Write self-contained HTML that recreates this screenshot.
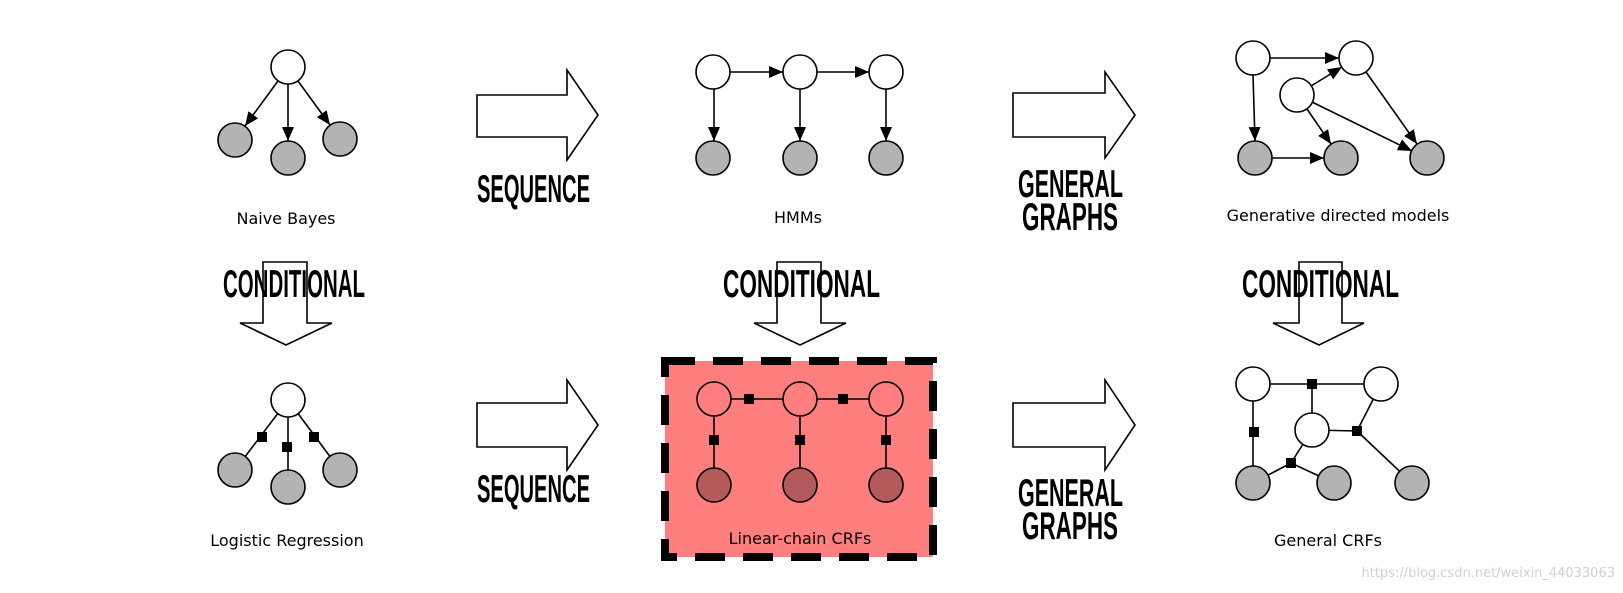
<!DOCTYPE html>
<html><head><meta charset="utf-8"><style>
html,body{margin:0;padding:0;background:#fff;}
svg{display:block;}
.lbl{font-family:"DejaVu Sans","Liberation Sans",sans-serif;font-size:16px;fill:#000;text-anchor:middle;}
.big{font-family:"Liberation Sans Narrow","Liberation Sans",sans-serif;font-weight:bold;font-size:39px;fill:#000;}
</style></head><body>
<svg width="1623" height="593" viewBox="0 0 1623 593" xmlns="http://www.w3.org/2000/svg">
<defs>
<marker id="ah" markerWidth="14" markerHeight="12" refX="14" refY="6" orient="auto" markerUnits="userSpaceOnUse">
<path d="M0,0 L14,6 L0,12 z" fill="#000"/>
</marker>
</defs>
<g stroke="#000" stroke-width="1.6" fill="none">
<!-- Naive Bayes arrows -->
<line x1="278" y1="81" x2="245" y2="126" marker-end="url(#ah)"/>
<line x1="288" y1="84" x2="288" y2="141" marker-end="url(#ah)"/>
<line x1="298" y1="81" x2="330" y2="125" marker-end="url(#ah)"/>
<!-- HMM arrows -->
<line x1="730" y1="72" x2="783" y2="72" marker-end="url(#ah)"/>
<line x1="817" y1="72" x2="869" y2="72" marker-end="url(#ah)"/>
<line x1="714" y1="89" x2="714" y2="141" marker-end="url(#ah)"/>
<line x1="800" y1="89" x2="800" y2="141" marker-end="url(#ah)"/>
<line x1="886" y1="89" x2="886" y2="141" marker-end="url(#ah)"/>
<!-- Generative -->
<line x1="1270" y1="58" x2="1339" y2="58" marker-end="url(#ah)"/>
<line x1="1253" y1="75" x2="1255" y2="141" marker-end="url(#ah)"/>
<line x1="1311" y1="86" x2="1342" y2="67" marker-end="url(#ah)"/>
<line x1="1307" y1="109" x2="1331" y2="144" marker-end="url(#ah)"/>
<line x1="1312" y1="102" x2="1412" y2="151" marker-end="url(#ah)"/>
<line x1="1366" y1="72" x2="1417" y2="144" marker-end="url(#ah)"/>
<line x1="1272" y1="158" x2="1324" y2="158" marker-end="url(#ah)"/>
<!-- LR lines -->
<line x1="288" y1="400" x2="235" y2="470"/>
<line x1="288" y1="400" x2="288" y2="487"/>
<line x1="288" y1="400" x2="340" y2="470"/>
</g>
<!-- Big arrows -->
<g stroke="#000" stroke-width="1.6" fill="#fff">
<polygon points="477,95 567,95 567,70 598,115 567,160 567,137 477,137"/>
<polygon points="477,403 567,403 567,380 598,425 567,470 567,447 477,447"/>
<polygon points="1013,93 1105,93 1105,72 1135,115 1105,158 1105,137 1013,137"/>
<polygon points="1013,403 1105,403 1105,380 1135,425 1105,470 1105,447 1013,447"/>
<polygon points="263,262 307,262 307,323 332,323 286,345 240,323 263,323"/>
<polygon points="777,262 821,262 821,323 846,323 800,345 754,323 777,323"/>
<polygon points="1299,262 1342,262 1342,323 1364,323 1319,345 1273,323 1299,323"/>
</g>
<!-- Red box -->
<rect x="665" y="361" width="268" height="196" fill="#ff7f7f" stroke="#000" stroke-width="8" stroke-dasharray="30 18"/>
<g stroke="#000" stroke-width="1.6" fill="none">
<line x1="714" y1="399" x2="886" y2="399"/>
<line x1="714" y1="399" x2="714" y2="485"/>
<line x1="800" y1="399" x2="800" y2="485"/>
<line x1="886" y1="399" x2="886" y2="485"/>
<!-- General CRF -->
<line x1="1253" y1="384" x2="1381" y2="384"/>
<line x1="1312" y1="384" x2="1312" y2="430"/>
<line x1="1253" y1="384" x2="1253" y2="483"/>
<line x1="1312" y1="430" x2="1357" y2="431"/>
<line x1="1381" y1="384" x2="1357" y2="431"/>
<line x1="1357" y1="431" x2="1412" y2="483"/>
<line x1="1312" y1="430" x2="1291" y2="463"/>
<line x1="1291" y1="463" x2="1253" y2="483"/>
<line x1="1291" y1="463" x2="1334" y2="483"/>
</g>
<!-- Nodes -->
<g stroke="#000" stroke-width="1.6">
<circle cx="288" cy="67" r="17" fill="#fff"/>
<circle cx="235" cy="140" r="17" fill="#b3b3b3"/>
<circle cx="288" cy="158" r="17" fill="#b3b3b3"/>
<circle cx="340" cy="139" r="17" fill="#b3b3b3"/>
<circle cx="713" cy="72" r="17" fill="#fff"/>
<circle cx="800" cy="72" r="17" fill="#fff"/>
<circle cx="886" cy="72" r="17" fill="#fff"/>
<circle cx="713" cy="158" r="17" fill="#b3b3b3"/>
<circle cx="800" cy="158" r="17" fill="#b3b3b3"/>
<circle cx="886" cy="158" r="17" fill="#b3b3b3"/>
<circle cx="1253" cy="58" r="17" fill="#fff"/>
<circle cx="1356" cy="58" r="17" fill="#fff"/>
<circle cx="1297" cy="95" r="17" fill="#fff"/>
<circle cx="1255" cy="158" r="17" fill="#b3b3b3"/>
<circle cx="1341" cy="158" r="17" fill="#b3b3b3"/>
<circle cx="1427" cy="158" r="17" fill="#b3b3b3"/>
<circle cx="288" cy="400" r="17" fill="#fff"/>
<circle cx="235" cy="470" r="17" fill="#b3b3b3"/>
<circle cx="288" cy="487" r="17" fill="#b3b3b3"/>
<circle cx="340" cy="470" r="17" fill="#b3b3b3"/>
<circle cx="714" cy="399" r="17" fill="#ff7f7f"/>
<circle cx="800" cy="399" r="17" fill="#ff7f7f"/>
<circle cx="886" cy="399" r="17" fill="#ff7f7f"/>
<circle cx="714" cy="485" r="17" fill="#b55a5a"/>
<circle cx="800" cy="485" r="17" fill="#b55a5a"/>
<circle cx="886" cy="485" r="17" fill="#b55a5a"/>
<circle cx="1253" cy="384" r="17" fill="#fff"/>
<circle cx="1381" cy="384" r="17" fill="#fff"/>
<circle cx="1312" cy="430" r="17" fill="#fff"/>
<circle cx="1253" cy="483" r="17" fill="#b3b3b3"/>
<circle cx="1334" cy="483" r="17" fill="#b3b3b3"/>
<circle cx="1412" cy="483" r="17" fill="#b3b3b3"/>
</g>
<!-- Factors -->
<g fill="#000">
<rect x="257" y="432" width="10" height="10"/>
<rect x="282" y="442" width="10" height="10"/>
<rect x="309" y="432" width="10" height="10"/>
<rect x="744" y="394" width="10" height="10"/>
<rect x="838" y="394" width="10" height="10"/>
<rect x="709" y="435" width="10" height="10"/>
<rect x="795" y="435" width="10" height="10"/>
<rect x="881" y="435" width="10" height="10"/>
<rect x="1307" y="379" width="10" height="10"/>
<rect x="1249" y="427" width="10" height="10"/>
<rect x="1352" y="426" width="10" height="10"/>
<rect x="1286" y="458" width="10" height="10"/>
</g>
<!-- Big labels -->
<text class="big" x="477" y="202" textLength="113" lengthAdjust="spacingAndGlyphs">SEQUENCE</text>
<text class="big" x="477" y="502" textLength="113" lengthAdjust="spacingAndGlyphs">SEQUENCE</text>
<text class="big" x="1018" y="197" textLength="105" lengthAdjust="spacingAndGlyphs">GENERAL</text>
<text class="big" x="1022" y="230" textLength="96" lengthAdjust="spacingAndGlyphs">GRAPHS</text>
<text class="big" x="1018" y="506" textLength="105" lengthAdjust="spacingAndGlyphs">GENERAL</text>
<text class="big" x="1022" y="539" textLength="96" lengthAdjust="spacingAndGlyphs">GRAPHS</text>
<text class="big" x="223" y="297" textLength="142" lengthAdjust="spacingAndGlyphs">CONDITIONAL</text>
<text class="big" x="723" y="297" textLength="157" lengthAdjust="spacingAndGlyphs">CONDITIONAL</text>
<text class="big" x="1242" y="297" textLength="157" lengthAdjust="spacingAndGlyphs">CONDITIONAL</text>
<!-- Small labels -->
<text class="lbl" x="286" y="224">Naive Bayes</text>
<text class="lbl" x="798" y="223">HMMs</text>
<text class="lbl" x="1338" y="221">Generative directed models</text>
<text class="lbl" x="287" y="546">Logistic Regression</text>
<text class="lbl" x="800" y="544">Linear-chain CRFs</text>
<text class="lbl" x="1328" y="546">General CRFs</text>
<text x="1615" y="577" text-anchor="end" style="font-family:'DejaVu Sans',sans-serif;font-size:13px;fill:#d0d0d0;">https://blog.csdn.net/weixin_44033063</text>
</svg>
</body></html>
